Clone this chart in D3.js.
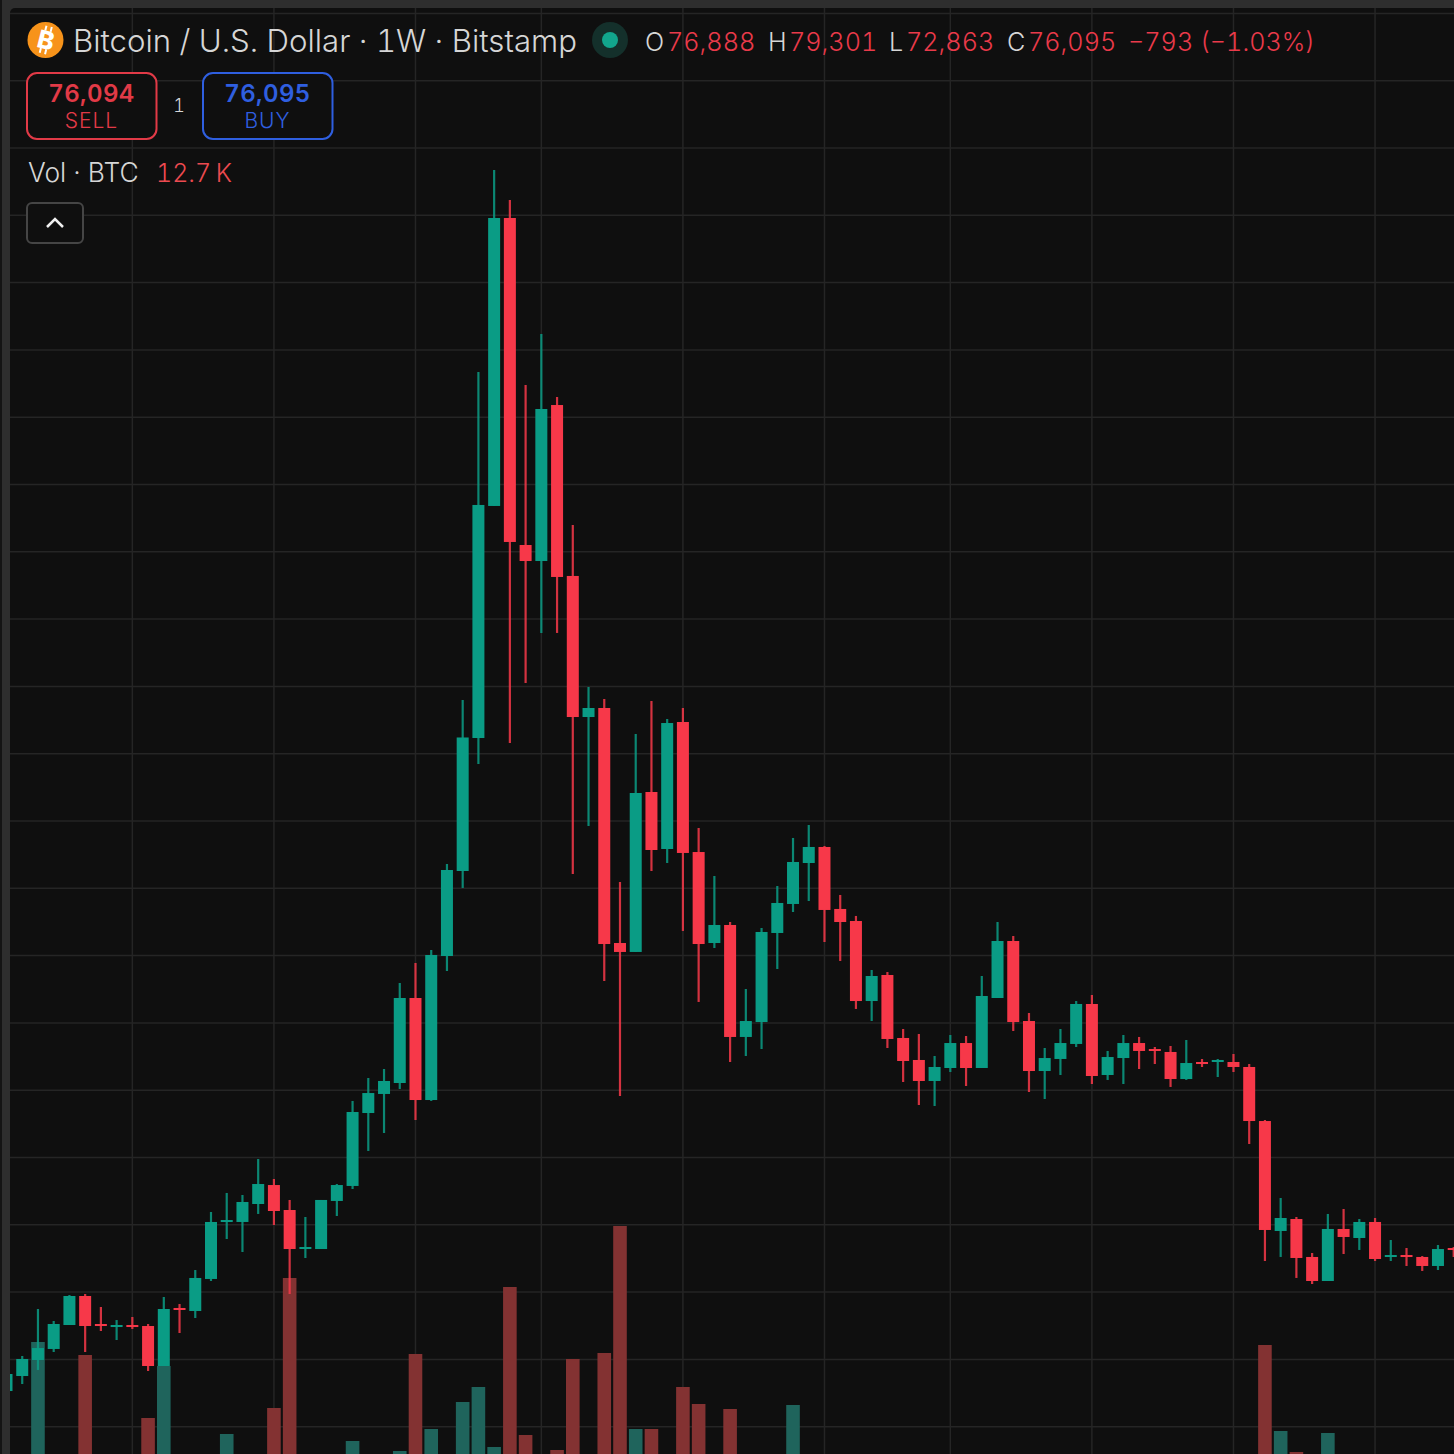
<!DOCTYPE html>
<html>
<head>
<meta charset="UTF-8" />
<title>Bitcoin / U.S. Dollar 1W</title>
<script src="https://d3js.org/d3.v7.min.js"></script>
<style>
  html, body { margin: 0; padding: 0; background: #2e2e2e; overflow: hidden; }
  svg { display: block; }
  text { font-family: Inter, "Noto Sans", sans-serif; font-variant-numeric: tabular-nums; }
</style>
</head>
<body>
<div id="chart"></div>
<script>
// weekly bars, USD, first bar is the week of 8 May 2017
var opens = [1530,1753,1991,2155,2511,2942,2526,2481,2511,2496,1902,2764,2719,3195,4042,4042,4309,4591,4220,3640,3640,4354,4577,5661,5944,6107,7370,5854,7994,9257,11233,14681,18960,14101,13863,16181,13641,11545,11679,8187,8054,10431,9584,11471,9539,8187,8455,6791,7013,8336,8767,9376,9614,8693,8514,7325,7712,6776,6449,6137,6330,6701,6330,7370,8217,7028,6285,6464,6687,7281,6226,6478,6701,6612,6568,6166,6419,6419,6419,6345,5542,3908,4086,3522,3165,3938,3804,4042,3522,3551,3522,3388,3655];
var highs = [1813,2051,2749,2571,2957,2972,2779,2585,2630,2526,2927,2823,3328,4190,4473,4443,4978,4681,4369,4116,4369,4606,5840,6181,6315,7593,7890,8083,9361,11798,16672,19673,19228,16479,17236,16300,14398,11991,11813,9094,11293,11783,11516,11679,9896,9183,8499,7504,8410,9034,9748,9941,9629,8901,8589,7786,7756,6909,6835,6508,6820,6805,7697,8499,8291,7147,6627,6909,7325,7415,6583,6820,6791,6642,6657,6746,6464,6464,6538,6389,5557,4398,4116,3581,4161,4235,4086,4101,3774,3655,3536,3700,3670];
var lows = [1516,1634,1843,2110,2511,2110,2422,2288,2452,1828,1902,2392,2615,3165,3789,3596,4161,3997,2972,3507,3640,4131,4532,5097,5364,6018,5557,5840,7771,9005,10847,14681,11159,12051,12794,12794,9213,9926,7623,5914,8054,9257,9376,8366,7311,8113,6419,6508,6612,7801,8648,8811,8202,7920,7207,7028,6627,6122,5780,5765,6270,6062,6330,7370,6880,5973,5869,6226,6642,6092,6152,6092,6315,6389,6048,6152,6345,6196,6270,5201,3462,3522,3210,3120,3165,3566,3626,3462,3462,3388,3314,3328,3522];
var closes = [1783,2006,2169,2526,2942,2496,2496,2511,2481,1902,2749,2734,3210,4042,4071,4339,4606,4205,3640,3670,4369,4591,5676,5958,6137,7370,5854,8009,9272,11241,14696,18960,14146,13863,16122,13626,11545,11679,8172,8054,10416,9569,11456,9525,8172,8455,6791,7028,8351,8782,9391,9614,8678,8499,7325,7697,6761,6434,6137,6345,6701,6330,7400,8217,7013,6285,6478,6701,7281,6211,6493,6701,6583,6583,6166,6404,6389,6449,6345,5542,3923,4101,3507,3165,3938,3819,4042,3492,3551,3522,3388,3640,3626];
// thousand BTC, anything under the bottom edge of the picture is a guess
var volumes = [60,70,218,60,60,205,60,60,60,142,194,60,60,60,126,60,60,152,282,60,60,60,119,60,60,109,206,131,60,158,173,113,273,125,60,110,201,60,207,334,131,131,60,173,156,60,151,60,60,60,155,60,60,60,60,60,60,60,60,60,60,60,60,60,60,60,60,60,60,60,60,60,60,60,60,60,60,60,60,60,215,129,108,60,127,60,60,60,60,60,60,60,60];
var weekRange = ["2017-05-08", "2019-02-18"];
var monthTicks = ["2017-07-03","2017-09-04","2017-11-06","2018-01-01","2018-03-05","2018-05-07","2018-07-02","2018-09-03","2018-11-05","2019-01-07"];
var priceTicks = d3.range(1000, 23000, 1000);

var quote = { open: "76,888", high: "79,301", low: "72,863", close: "76,095", change: "\u2212793 (\u22121.03%)" };
var sellPrice = "76,094", buyPrice = "76,095", spread = "1", volLabel = "12.7\u2009K";

var W = 1454, H = 1454;
var green = "#0a9c85", red = "#f73849";
var dimRed = "#ea3a4a", sellRed = "#e23a47", blue = "#2f5fe0";
var textCol = "#d6d6d6";

var parseDay = d3.utcParse("%Y-%m-%d");
var weeks = d3.utcMonday.range(parseDay(weekRange[0]), parseDay(weekRange[1]));
var barW = 12, volW = 13.6, wickW = 2.2;

var x = d3.scaleUtc()
  .domain([weeks[0], weeks[weeks.length - 1]])
  .range([6.5, 1453.7]);
var y = d3.scaleLinear().domain([0, 22000]).range([1494, 1494 - 22 * 67.3]);
var yVol = d3.scaleLinear().domain([0, 334]).range([1560, 1226]);

var svg = d3.select("#chart").append("svg").attr("width", W).attr("height", H);

svg.append("rect").attr("width", 2).attr("height", H).attr("fill", "#141414");

svg.append("defs").append("clipPath").attr("id", "pane")
  .append("rect").attr("x", 10).attr("y", 8).attr("width", W).attr("height", H).attr("rx", 5);

var pane = svg.append("g").attr("clip-path", "url(#pane)");
pane.append("rect").attr("x", 10).attr("y", 8).attr("width", W).attr("height", H).attr("fill", "#0f0f0f");

// grid
pane.append("g").selectAll("line").data(monthTicks).enter().append("line")
  .attr("x1", function(d) { return x(parseDay(d)); })
  .attr("x2", function(d) { return x(parseDay(d)); })
  .attr("y1", 8).attr("y2", H)
  .attr("stroke", "#252525").attr("stroke-width", 1.5);

pane.append("g").selectAll("line").data(priceTicks).enter().append("line")
  .attr("x1", 10).attr("x2", W)
  .attr("y1", function(d) { return y(d); })
  .attr("y2", function(d) { return y(d); })
  .attr("stroke", "#252525").attr("stroke-width", 1.5);

var bars = weeks.map(function(d, i) {
  return { date: d, o: opens[i], h: highs[i], l: lows[i], c: closes[i], v: volumes[i], up: closes[i] >= opens[i] };
});

// volume sits under the candles
pane.append("g").selectAll("rect").data(bars).enter().append("rect")
  .attr("x", function(d) { return x(d.date) - volW / 2; })
  .attr("y", function(d) { return yVol(d.v); })
  .attr("width", volW)
  .attr("height", function(d) { return yVol(0) - yVol(d.v); })
  .attr("fill", function(d) { return d.up ? "#1f645c" : "#833232"; });

var candles = pane.append("g").selectAll("g").data(bars).enter().append("g");

candles.append("line")
  .attr("x1", function(d) { return x(d.date); })
  .attr("x2", function(d) { return x(d.date); })
  .attr("y1", function(d) { return y(d.h); })
  .attr("y2", function(d) { return y(d.l); })
  .attr("stroke", function(d) { return d.up ? green : red; })
  .attr("stroke-opacity", 0.85)
  .attr("stroke-width", wickW);

candles.append("rect")
  .attr("x", function(d) { return x(d.date) - barW / 2; })
  .attr("y", function(d) { return y(Math.max(d.o, d.c)); })
  .attr("width", barW)
  .attr("height", function(d) { return Math.max(2, Math.abs(y(d.o) - y(d.c))); })
  .attr("fill", function(d) { return d.up ? green : red; });

// header
var head = svg.append("g");

head.append("circle").attr("cx", 45.5).attr("cy", 40).attr("r", 18).attr("fill", "#f7931a");
var coin = head.append("g").attr("transform", "translate(46,40) rotate(14)");
coin.append("text").text("B")
  .attr("y", 9)
  .attr("text-anchor", "middle")
  .attr("font-size", 25).attr("font-weight", 800)
  .attr("fill", "#ffffff");
coin.selectAll("line").data([[-3, -14, -3, -9], [2.5, -14, 2.5, -9], [-3, 9, -3, 14], [2.5, 9, 2.5, 14]]).enter().append("line")
  .attr("x1", function(d) { return d[0]; })
  .attr("y1", function(d) { return d[1]; })
  .attr("x2", function(d) { return d[2]; })
  .attr("y2", function(d) { return d[3]; })
  .attr("stroke", "#ffffff").attr("stroke-width", 2);

function label(str, xp, yp, size, col, weight) {
  return head.append("text").text(str)
    .attr("x", xp).attr("y", yp)
    .attr("font-size", size)
    .attr("font-weight", weight || 400)
    .attr("fill", col);
}

label("Bitcoin / U.S. Dollar \u00B7 1W \u00B7 Bitstamp", 73, 52, 31.2, textCol, 300);

head.append("circle").attr("cx", 610).attr("cy", 40).attr("r", 18).attr("fill", "#14302b");
head.append("circle").attr("cx", 610).attr("cy", 40).attr("r", 8).attr("fill", "#12a68d");

var qSize = 25.2;
label("O", 645, 51, qSize, textCol, 300);
label(quote.open, 667, 51, qSize, dimRed, 300);
label("H", 768, 51, qSize, textCol, 300);
label(quote.high, 789, 51, qSize, dimRed, 300);
label("L", 889, 51, qSize, textCol, 300);
label(quote.low, 906, 51, qSize, dimRed, 300);
label("C", 1007, 51, qSize, textCol, 300);
label(quote.close, 1028, 51, qSize, dimRed, 300);
label(quote.change, 1128, 51, qSize, dimRed, 300);

function tradeBox(xp, col, price, word) {
  head.append("rect")
    .attr("x", xp).attr("y", 73)
    .attr("width", 129.5).attr("height", 66)
    .attr("rx", 10)
    .attr("fill", "#0f0f0f").attr("stroke", col).attr("stroke-width", 2);
  label(price, xp + 64.5, 102, 24, col, 600).attr("text-anchor", "middle").style("letter-spacing", "0.4px");
  label(word, xp + 64.5, 128, 21, col, 300).attr("text-anchor", "middle").style("letter-spacing", "1px");
}
tradeBox(27, sellRed, sellPrice, "SELL");
tradeBox(203, blue, buyPrice, "BUY");
label(spread, 179, 112, 18, textCol, 300).attr("text-anchor", "middle");

label("Vol \u00B7 BTC", 28, 182, 26.4, textCol, 300);
label(volLabel, 156, 182, 25, "#ec4a50", 300);

head.append("rect")
  .attr("x", 27).attr("y", 203)
  .attr("width", 56).attr("height", 40)
  .attr("rx", 5)
  .attr("fill", "#0f0f0f").attr("stroke", "#454545").attr("stroke-width", 2);
head.append("path")
  .attr("d", d3.line()([[47, 227], [55, 219], [63, 227]]))
  .attr("fill", "none").attr("stroke", "#f0f0f0").attr("stroke-width", 2.5);
</script>
</body>
</html>
